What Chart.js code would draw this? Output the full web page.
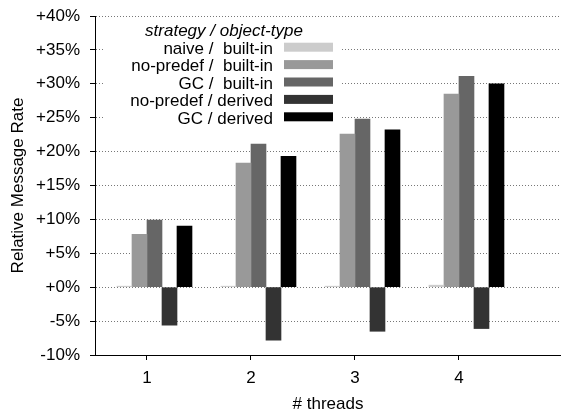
<!DOCTYPE html>
<html>
<head>
<meta charset="utf-8">
<script src="https://cdn.jsdelivr.net/npm/chart.js@4"></script>
<style>
  html, body { margin: 0; padding: 0; background: #fff; }
  canvas { display: block; }
</style>
</head>
<body>
<canvas id="chart" width="561" height="413"></canvas>
<script>
// number of threads (x axis)
const threads = [1, 2, 3, 4];

// relative message rate in %, one list per strategy / object-type
const naiveBuiltin = [0.15, 0.15, 0.15, 0.3];
const noPredefBuiltin = [7.8, 18.3, 22.6, 28.5];
const gcBuiltin = [9.9, 21.1, 24.8, 31.1];
const noPredefDerived = [-5.6, -7.8, -6.5, -6.1];
const gcDerived = [9.0, 19.3, 23.2, 30.0];

const seriesLabels = ['naive /  built-in', 'no-predef /  built-in', 'GC /  built-in', 'no-predef / derived', 'GC / derived'];
const seriesColors = ['#cccccc', '#999999', '#666666', '#333333', '#000000'];
const seriesValues = [naiveBuiltin, noPredefBuiltin, gcBuiltin, noPredefDerived, gcDerived];

Chart.defaults.font.family = '"Liberation Sans", Arial, sans-serif';
Chart.defaults.font.size = 17;
Chart.defaults.color = '#000';

function toPoints(vals) {
    return threads.map((t, i) => ({ x: t, y: vals[i] }));
}

// empty slot first, so the cluster sits like in the original (gap on the left)
const datasets = [{ label: '', data: threads.map(t => ({ x: t, y: null })), backgroundColor: '#fff' }];
seriesValues.forEach((vals, i) => {
    datasets.push({
        label: seriesLabels[i],
        data: toPoints(vals),
        backgroundColor: seriesColors[i],
        borderWidth: 0
    });
});

// key drawn inside the plot: title, right aligned text, swatch on the right
const keyBox = {
    id: 'keyBox',
    afterDatasetsDraw(chart) {
        const { ctx, chartArea: a } = chart;
        ctx.save();
        ctx.fillStyle = '#fff';
        ctx.fillRect(a.left + 10, a.top + 1, 237, 111);

        ctx.fillStyle = '#000';
        ctx.textBaseline = 'alphabetic';
        ctx.textAlign = 'center';
        ctx.font = 'italic 17px "Liberation Sans"';
        ctx.fillText('strategy / object-type', a.left + 129, a.top + 20);

        ctx.font = '17px "Liberation Sans"';
        ctx.textAlign = 'right';
        seriesLabels.forEach((lab, i) => {
            const base = a.top + 38 + i * 17.4;
            ctx.fillStyle = '#000';
            ctx.fillText(lab, a.left + 178, base);
            ctx.fillStyle = seriesColors[i];
            ctx.fillRect(a.left + 189, base - 11.3, 49, 9);
        });
        ctx.restore();
    }
};

new Chart(document.getElementById('chart'), {
    type: 'bar',
    data: { datasets: datasets },
    options: {
        responsive: false,
        animation: false,
        devicePixelRatio: 1,
        barThickness: 15,
        layout: { padding: { top: 16, right: 0, left: 0, bottom: 0 } },
        plugins: { legend: { display: false }, tooltip: { enabled: false } },
        scales: {
            x: {
                type: 'linear',
                min: 0.5,
                max: 4.981,
                offset: false,
                afterFit: s => { s.height = 58; s.paddingLeft = 0; s.paddingRight = 0; },
                ticks: { stepSize: 1, includeBounds: false, padding: 8 },
                grid: { offset: false, drawOnChartArea: false, tickLength: 5, tickColor: '#000' },
                border: { color: '#000', width: 1 },
                title: { display: true, text: '# threads', font: { size: 17, lineHeight: 1 }, padding: { top: 0, bottom: 0 } }
            },
            y: {
                min: -10,
                max: 40,
                afterFit: s => { s.width = 95; s.paddingTop = 0; s.paddingBottom = 0; },
                ticks: {
                    stepSize: 5,
                    padding: 10,
                    callback: v => (v >= 0 ? '+' : '') + v + '%'
                },
                grid: { color: '#777', tickLength: 5, tickColor: '#000', tickBorderDash: [] },
                border: { color: '#000', width: 1, dash: [1, 2] },
                title: { display: true, text: 'Relative Message Rate', font: { size: 17 }, padding: { top: 8, bottom: 0 } }
            }
        }
    },
    plugins: [keyBox]
});
</script>
</body>
</html>
